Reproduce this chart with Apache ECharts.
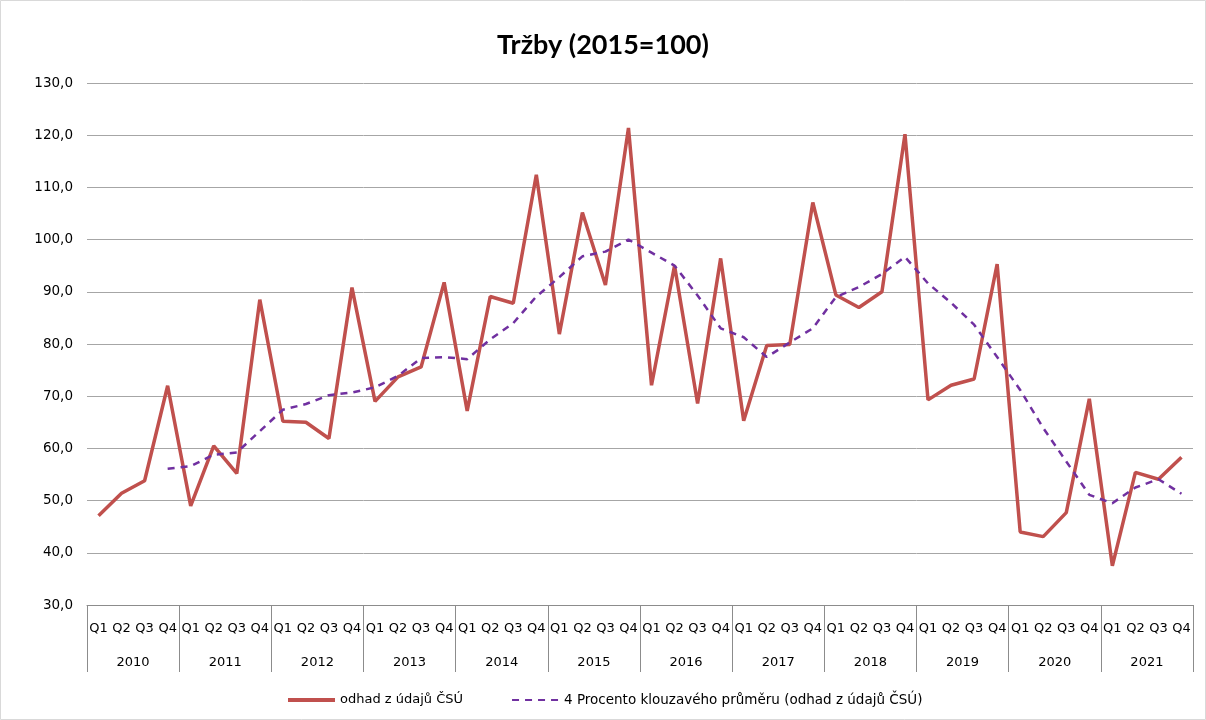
<!DOCTYPE html>
<html><head><meta charset="utf-8">
<script src="https://cdn.jsdelivr.net/npm/echarts@6/dist/echarts.min.js"></script>
<style>html,body{margin:0;padding:0;background:#fff}#c{width:1206px;height:720px}</style>
</head><body><div id="c"></div>
<script>
const years = ['2010','2011','2012','2013','2014','2015','2016','2017','2018','2019','2020','2021'];
const quarters = ['Q1','Q2','Q3','Q4'];
const sales = [47.1,51.4,53.8,72.0, 49.0,60.5,55.2,88.5, 65.2,65.0,61.9,90.8, 69.0,73.7,75.6,91.8,
  67.2,89.1,87.8,112.4, 81.9,105.2,91.3,121.4, 72.1,95.0,68.6,96.4, 65.3,79.7,79.9,107.1,
  89.4,87.0,90.0,120.2, 69.3,72.1,73.3,95.3, 44.0,43.1,47.7,69.5, 37.5,55.4,54.1,58.3];
const movingAvg = [null,null,null,56.1, 56.6,58.8,59.2,63.3, 67.4,68.5,70.2,70.7, 71.7,73.9,77.3,77.5,
  77.1,80.9,84.0,89.1, 92.8,96.8,97.7,100.0, 97.5,95.0,89.3,83.0, 81.3,77.5,80.3,83.0,
  89.0,90.9,93.4,96.7, 91.6,87.9,83.7,77.5, 71.2,63.9,57.5,51.1, 49.5,52.5,54.1,51.3];
const yTicks = {min:30, max:130, interval:10};
const seriesNames = ['odhad z údajů ČSÚ','4 Procento klouzavého průměru (odhad z údajů ČSÚ)'];

const qLabels = [];
years.forEach(()=>quarters.forEach(q=>qLabels.push(q)));
const TFONT = 'Lato, "Open Sans", sans-serif';
const FONT = '"DejaVu Sans", Verdana, sans-serif';

const chart = echarts.init(document.getElementById('c'), null, {renderer:'canvas'});
chart.setOption({
  animation:false,
  backgroundColor:'#fff',
  title:{text:'Tržby (2015=100)', left:'center', top:27,
    textStyle:{fontFamily:TFONT, fontSize:27, fontWeight:'bold', color:'#000'}},
  grid:{left:87, right:13, top:83, bottom:115},
  legend:{bottom:8, left:283, itemGap:48, itemWidth:47, itemHeight:4,
    textStyle:{fontFamily:FONT, fontSize:13, color:'#000'},
    data:[{name:seriesNames[0], icon:'rect'},
          {name:seriesNames[1], itemStyle:{opacity:0}, textStyle:{fontSize:13.5}}]},
  xAxis:[
    {type:'category', data:qLabels, boundaryGap:true, position:'bottom',
     axisLine:{show:true, lineStyle:{color:'#8c8c8c', width:1}},
     axisTick:{show:false},
     axisLabel:{interval:0, margin:17, fontFamily:FONT, fontSize:13, color:'#000'},
     splitLine:{show:false}},
    {type:'category', data:years, boundaryGap:true, position:'bottom',
     axisLine:{show:false},
     axisTick:{show:true, interval:0, length:67, inside:false, lineStyle:{color:'#8c8c8c', width:1}},
     axisLabel:{interval:0, margin:51, fontFamily:FONT, fontSize:13, color:'#000'},
     splitLine:{show:false}}
  ],
  yAxis:{type:'value', min:yTicks.min, max:yTicks.max, interval:yTicks.interval,
    axisLine:{show:false}, axisTick:{show:false},
    axisLabel:{margin:14, fontFamily:FONT, fontSize:13.5, color:'#000',
      formatter:v=>v.toFixed(1).replace('.',',')},
    splitLine:{lineStyle:{color:'#a6a6a6', width:1}}},
  series:[
    {name:seriesNames[0], type:'line', xAxisIndex:0, data:sales, symbol:'none',
     lineStyle:{color:'#C0504D', width:3.5}, itemStyle:{color:'#C0504D'}, z:3},
    {name:seriesNames[1], type:'line', xAxisIndex:0, data:movingAvg, symbol:'none', connectNulls:false,
     lineStyle:{color:'#7030A0', width:2.5, type:[7,6]}, itemStyle:{color:'#7030A0'}, z:4}
  ],
  graphic:[{type:'rect', shape:{x:0.5,y:0.5,width:1205,height:719},
    style:{fill:'none', stroke:'#d9d9d9', lineWidth:1}, silent:true}]
});
</script></body></html>
